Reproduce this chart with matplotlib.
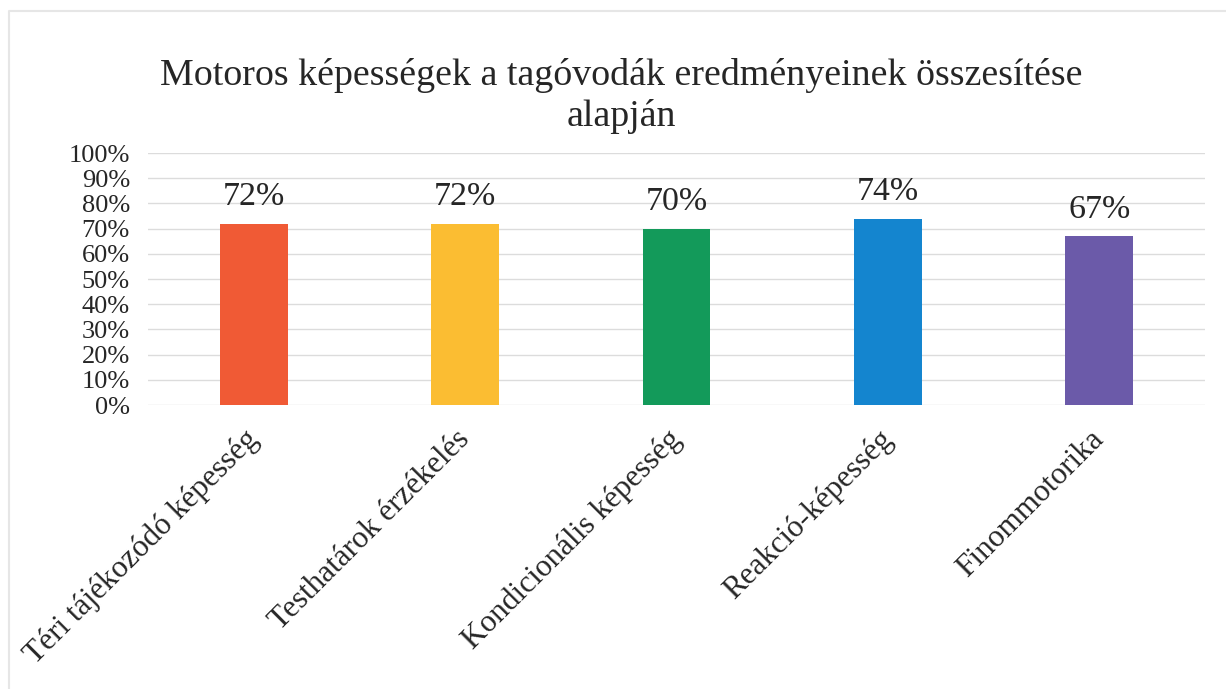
import matplotlib.pyplot as plt
from matplotlib.lines import Line2D
from matplotlib.transforms import ScaledTranslation

# Chart data
categories = ['Téri tájékozódó képesség', 'Testhatárok érzékelés',
              'Kondicionális képesség', 'Reakció-képesség', 'Finommotorika']
values = [0.72, 0.72, 0.70, 0.74, 0.67]
value_labels = ['72%', '72%', '70%', '74%', '67%']
colors = ['#f05a35', '#fbbd32', '#139a5a', '#1485cf', '#6b5aa9']
ytick_values = [i / 10 for i in range(11)]
ytick_labels = [f'{i * 10}%' for i in range(11)]

plt.rcParams['font.family'] = ['Liberation Serif', 'DejaVu Serif']

fig = plt.figure(figsize=(12.26, 6.89), dpi=100)
ax = fig.add_axes([148 / 1226, 1 - 405 / 689, (1205 - 148) / 1226, (405 - 153) / 689])

x = list(range(len(categories)))
ax.bar(x, values, width=0.32, color=colors, zorder=2)

for xi, v, lab in zip(x, values, value_labels):
    ax.text(xi, v + 0.045, lab, ha='center', va='bottom', fontsize=24.5, color='#262626')

ax.set_xlim(-0.5, len(categories) - 0.5)
ax.set_ylim(0, 1)
ax.set_yticks(ytick_values)
ax.set_yticklabels(ytick_labels, fontsize=19, color='#262626')
ax.yaxis.grid(True, color='#dcdcdc', linewidth=1, zorder=0)
ax.tick_params(axis='both', length=0)
ax.tick_params(axis='y', pad=13)

ax.set_xticks(x)
ax.set_xticklabels(categories, rotation=45, ha='right', rotation_mode='anchor',
                   fontsize=22.5, color='#262626')
ax.tick_params(axis='x', pad=14)
# nudge the slanted labels a little to the left
shift = ScaledTranslation(-10 / 100, 0, fig.dpi_scale_trans)
for lbl in ax.get_xticklabels():
    lbl.set_transform(lbl.get_transform() + shift)

for s in ax.spines.values():
    s.set_visible(False)

fig.text(0.507, 1 - 96 / 689, 'Motoros képességek a tagóvodák eredményeinek összesítése\nalapján',
         ha='center', va='center', fontsize=27.3, color='#262626', linespacing=1.2)

# faint frame (left and top edges) around the chart area
fig.lines.append(Line2D([9 / 1226, 9 / 1226, 1], [0, 1 - 11 / 689, 1 - 11 / 689],
                        transform=fig.transFigure, color='#e6e6e6', linewidth=1.5))

fig.savefig('out.png', dpi=100)
